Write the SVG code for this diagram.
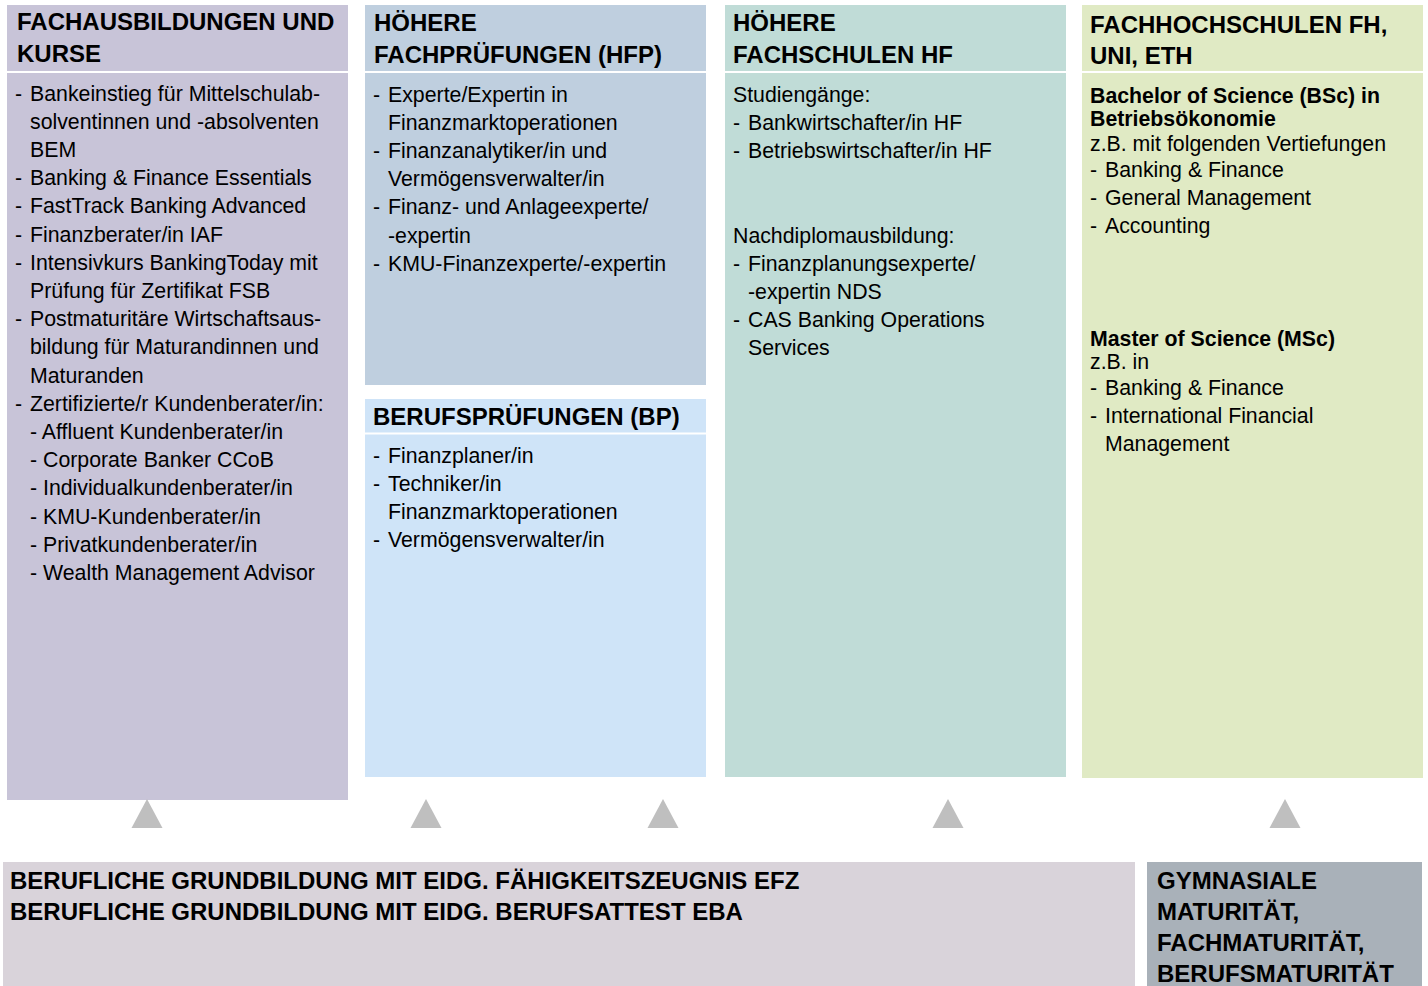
<svg xmlns="http://www.w3.org/2000/svg" width="1428" height="986" viewBox="0 0 1428 986">
<style>
text{font-family:"Liberation Sans",Arial,sans-serif;fill:#000}
.h{font-size:24px;font-weight:bold}
.b{font-size:21.3px}
.bb{font-size:21.3px;font-weight:bold}
.sep{stroke:#fff;stroke-width:2}
.tri{fill:#bfbfbf}
</style>
<rect width="1428" height="986" fill="#fff"/>

<g id="fachausbildungen">
<rect x="7" y="5" width="341" height="795" fill="#c8c4d8"/>
<line class="sep" x1="7" y1="72" x2="348" y2="72"/>
<text class="h" x="17" y="30">FACHAUSBILDUNGEN UND</text>
<text class="h" x="17" y="62">KURSE</text>
<text class="b" y="100.5"><tspan x="15">-</tspan><tspan x="30">Bankeinstieg für Mittelschulab-</tspan></text>
<text class="b" x="30" y="128.7">solventinnen und -absolventen</text>
<text class="b" x="30" y="156.9">BEM</text>
<text class="b" y="185.1"><tspan x="15">-</tspan><tspan x="30">Banking &amp; Finance Essentials</tspan></text>
<text class="b" y="213.3"><tspan x="15">-</tspan><tspan x="30">FastTrack Banking Advanced</tspan></text>
<text class="b" y="241.5"><tspan x="15">-</tspan><tspan x="30">Finanzberater/in IAF</tspan></text>
<text class="b" y="269.7"><tspan x="15">-</tspan><tspan x="30">Intensivkurs BankingToday mit</tspan></text>
<text class="b" x="30" y="297.9">Prüfung für Zertifikat FSB</text>
<text class="b" y="326.1"><tspan x="15">-</tspan><tspan x="30">Postmaturitäre Wirtschaftsaus-</tspan></text>
<text class="b" x="30" y="354.3">bildung für Maturandinnen und</text>
<text class="b" x="30" y="382.5">Maturanden</text>
<text class="b" y="410.7"><tspan x="15">-</tspan><tspan x="30">Zertifizierte/r Kundenberater/in:</tspan></text>
<text class="b" x="30" y="438.9">- Affluent Kundenberater/in</text>
<text class="b" x="30" y="467.1">- Corporate Banker CCoB</text>
<text class="b" x="30" y="495.3">- Individualkundenberater/in</text>
<text class="b" x="30" y="523.5">- KMU-Kundenberater/in</text>
<text class="b" x="30" y="551.7">- Privatkundenberater/in</text>
<text class="b" x="30" y="579.9">- Wealth Management Advisor</text>
</g>

<g id="hfp">
<rect x="365" y="5" width="341" height="380" fill="#bfcfdf"/>
<line class="sep" x1="365" y1="72" x2="706" y2="72"/>
<text class="h" x="374" y="31">HÖHERE</text>
<text class="h" x="374" y="63">FACHPRÜFUNGEN (HFP)</text>
<text class="b" y="101.5"><tspan x="373">-</tspan><tspan x="388">Experte/Expertin in</tspan></text>
<text class="b" x="388" y="129.7">Finanzmarktoperationen</text>
<text class="b" y="157.9"><tspan x="373">-</tspan><tspan x="388">Finanzanalytiker/in und</tspan></text>
<text class="b" x="388" y="186.1">Vermögensverwalter/in</text>
<text class="b" y="214.3"><tspan x="373">-</tspan><tspan x="388">Finanz- und Anlageexperte/</tspan></text>
<text class="b" x="388" y="242.5">-expertin</text>
<text class="b" y="270.7"><tspan x="373">-</tspan><tspan x="388">KMU-Finanzexperte/-expertin</tspan></text>
</g>

<g id="bp">
<rect x="365" y="399" width="341" height="378" fill="#cfe4f8"/>
<line class="sep" x1="365" y1="433.5" x2="706" y2="433.5"/>
<text class="h" x="373" y="425">BERUFSPRÜFUNGEN (BP)</text>
<text class="b" y="462.5"><tspan x="373">-</tspan><tspan x="388">Finanzplaner/in</tspan></text>
<text class="b" y="490.7"><tspan x="373">-</tspan><tspan x="388">Techniker/in</tspan></text>
<text class="b" x="388" y="518.9">Finanzmarktoperationen</text>
<text class="b" y="547.1"><tspan x="373">-</tspan><tspan x="388">Vermögensverwalter/in</tspan></text>
</g>

<g id="hf">
<rect x="725" y="5" width="341" height="772" fill="#c0dcd7"/>
<line class="sep" x1="725" y1="72" x2="1066" y2="72"/>
<text class="h" x="733" y="31">HÖHERE</text>
<text class="h" x="733" y="63">FACHSCHULEN HF</text>
<text class="b" x="733" y="101.5">Studiengänge:</text>
<text class="b" y="129.7"><tspan x="733">-</tspan><tspan x="748">Bankwirtschafter/in HF</tspan></text>
<text class="b" y="157.9"><tspan x="733">-</tspan><tspan x="748">Betriebswirtschafter/in HF</tspan></text>
<text class="b" x="733" y="242.5">Nachdiplomausbildung:</text>
<text class="b" y="270.7"><tspan x="733">-</tspan><tspan x="748">Finanzplanungsexperte/</tspan></text>
<text class="b" x="748" y="298.9">-expertin NDS</text>
<text class="b" y="327.1"><tspan x="733">-</tspan><tspan x="748">CAS Banking Operations</tspan></text>
<text class="b" x="748" y="355.3">Services</text>
</g>

<g id="fh">
<rect x="1082" y="5" width="341" height="773" fill="#e0eac4"/>
<line class="sep" x1="1082" y1="72" x2="1423" y2="72"/>
<text class="h" x="1090" y="33">FACHHOCHSCHULEN FH,</text>
<text class="h" x="1090" y="64">UNI, ETH</text>
<text class="bb" x="1090" y="102.5">Bachelor of Science (BSc) in</text>
<text class="bb" x="1090" y="125.5">Betriebsökonomie</text>
<text class="b" x="1090" y="150.5">z.B. mit folgenden Vertiefungen</text>
<text class="b" y="176.5"><tspan x="1090">-</tspan><tspan x="1105">Banking &amp; Finance</tspan></text>
<text class="b" y="204.5"><tspan x="1090">-</tspan><tspan x="1105">General Management</tspan></text>
<text class="b" y="232.5"><tspan x="1090">-</tspan><tspan x="1105">Accounting</tspan></text>
<text class="bb" x="1090" y="345.5">Master of Science (MSc)</text>
<text class="b" x="1090" y="368.5">z.B. in</text>
<text class="b" y="394.5"><tspan x="1090">-</tspan><tspan x="1105">Banking &amp; Finance</tspan></text>
<text class="b" y="422.5"><tspan x="1090">-</tspan><tspan x="1105">International Financial</tspan></text>
<text class="b" x="1105" y="450.5">Management</text>
</g>

<g id="grundbildung">
<rect x="3" y="862" width="1132" height="124" fill="#d9d3da"/>
<text class="h" x="10" y="889">BERUFLICHE GRUNDBILDUNG MIT EIDG. FÄHIGKEITSZEUGNIS EFZ</text>
<text class="h" x="10" y="920">BERUFLICHE GRUNDBILDUNG MIT EIDG. BERUFSATTEST EBA</text>
</g>

<g id="maturitaet">
<rect x="1147" y="862" width="275" height="124" fill="#a9b1b9"/>
<text class="h" x="1157" y="889">GYMNASIALE</text>
<text class="h" x="1157" y="920">MATURITÄT,</text>
<text class="h" x="1157" y="951">FACHMATURITÄT,</text>
<text class="h" x="1157" y="982">BERUFSMATURITÄT</text>
</g>

<g id="connectors">
<polygon class="tri" points="131.5,828 147,799 162.5,828"/>
<polygon class="tri" points="410.5,828 426,799 441.5,828"/>
<polygon class="tri" points="647.5,828 663,799 678.5,828"/>
<polygon class="tri" points="932.5,828 948,799 963.5,828"/>
<polygon class="tri" points="1269.5,828 1285,799 1300.5,828"/>
</g>
</svg>
